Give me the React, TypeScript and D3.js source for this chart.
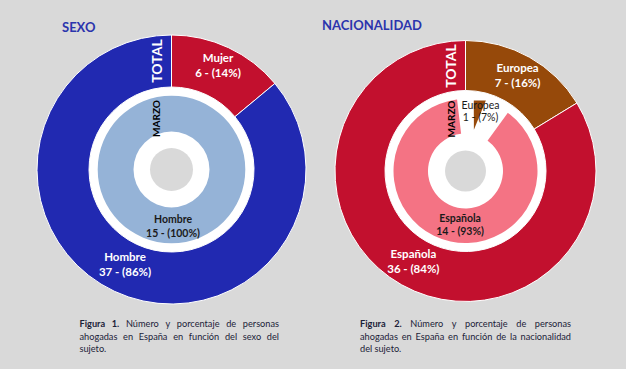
import React from "react";
import * as d3 from "d3";

const W = 626;
const H = 369;

// ---- data ----
const sexoTitle = "SEXO";
const sexoTotalLabels = ["Mujer", "Hombre"];
const sexoTotalValues = [6, 37];
const sexoMarzoLabels = ["Hombre"];
const sexoMarzoValues = [15];

const nacTitle = "NACIONALIDAD";
const nacTotalLabels = ["Europea", "Española"];
const nacTotalValues = [7, 36];
const nacMarzoLabels = ["Europea", "Española"];
const nacMarzoValues = [1, 14];

const ringLabelOuter = "TOTAL";
const ringLabelInner = "MARZO";

const caption1 = ["Figura 1.", "Número y porcentaje de personas ahogadas en España en función del sexo del sujeto."];
const caption2 = ["Figura 2.", "Número y porcentaje de personas ahogadas en España en función de la nacionalidad del sujeto."];
const caption1Lines = [7, 8]; // words per justified line (rest on last line)
const caption2Lines = [7, 8];

// ---- styles ----
const FONT = "Lato, 'Open Sans', sans-serif";
const BG = "#d9d9d9";

const sexoOuterColors = ["#c2102e", "#2129b1"];
const sexoInnerColors = ["#95b3d7"];
const nacOuterColors = ["#96490a", "#c2102e"];
const nacInnerColors = ["#96490a", "#f47384"];

type Panel = {
  title: string;
  titleX: number;
  titleY: number;
  cx: number;
  cy: number;
  rO: number;
  rOi: number;
  rIo: number;
  rIi: number;
  rCore: number;
  outerLabels: string[];
  outerValues: number[];
  outerColors: string[];
  innerLabels: string[];
  innerValues: number[];
  innerColors: string[];
  innerLabelColor: string;
  innerBold: boolean[];
  outerDy: [number, number];
  innerDy: [number, number][];
  innerR: number[];
  innerDx: number[];
  gapSlice: number;
  totalPos: [number, number];
  marzoPos: [number, number];
  caption: string[];
  captionLines: number[];
  capX: number;
  capW: number;
};

const panels: Panel[] = [
  {
    title: sexoTitle, titleX: 62, titleY: 31.5,
    cx: 171.5, cy: 169.5, rO: 134.5, rOi: 82.5, rIo: 73.8, rIi: 38, rCore: 21.5,
    outerLabels: sexoTotalLabels, outerValues: sexoTotalValues, outerColors: sexoOuterColors,
    innerLabels: sexoMarzoLabels, innerValues: sexoMarzoValues, innerColors: sexoInnerColors,
    innerLabelColor: "#1a1a1a", innerBold: [true],
    outerDy: [-8, 7], innerDy: [[-3, 11]], innerR: [56], innerDx: [1.5],
    gapSlice: -1,
    totalPos: [156.5, 61], marzoPos: [155.5, 118.5],
    caption: caption1, captionLines: caption1Lines, capX: 79.5, capW: 199.5,
  },
  {
    title: nacTitle, titleX: 322, titleY: 29.5,
    cx: 465.5, cy: 171, rO: 130.5, rOi: 80.5, rIo: 72, rIi: 37.5, rCore: 20.5,
    outerLabels: nacTotalLabels, outerValues: nacTotalValues, outerColors: nacOuterColors,
    innerLabels: nacMarzoLabels, innerValues: nacMarzoValues, innerColors: nacInnerColors,
    innerLabelColor: "#1a1a1a", innerBold: [false, true],
    outerDy: [-6, 9], innerDy: [[-5, 7], [-3, 10]], innerR: [58, 55], innerDx: [3, 6],
    gapSlice: 0,
    totalPos: [450.5, 66], marzoPos: [451, 119],
    caption: caption2, captionLines: caption2Lines, capX: 360, capW: 211,
  },
];

const pct = (v: number, tot: number) => `${v} - (${Math.round((v / tot) * 100)}%)`;

let ctx: CanvasRenderingContext2D | null = null;
function measure(text: string, bold: boolean, size: number) {
  if (!ctx) ctx = document.createElement("canvas").getContext("2d");
  if (!ctx) return text.length * size * 0.5;
  ctx.font = `${bold ? "bold " : ""}${size}px Lato`;
  return ctx.measureText(text).width;
}

function Caption({ p }: { p: Panel }) {
  const size = 9.2;
  const boldWords = p.caption[0].split(" ").map((w) => ({ w, b: true }));
  const normWords = p.caption[1].split(" ").map((w) => ({ w, b: false }));
  const words = [...boldWords, ...normWords];
  const lines: { w: string; b: boolean }[][] = [];
  let i = 0;
  for (const n of p.captionLines) {
    lines.push(words.slice(i, i + n));
    i += n;
  }
  lines.push(words.slice(i));
  const baselines = [327.3, 339.5, 351.7];
  return (
    <g fontFamily={FONT} fontSize={size} fill="#1b2238">
      {lines.map((ln, li) => {
        const widths = ln.map((t) => measure(t.w, t.b, size));
        const total = d3.sum(widths);
        const justify = li < lines.length - 1;
        const space = justify ? (p.capW - total) / (ln.length - 1) : measure(" ", false, size);
        let x = p.capX;
        return (
          <text key={li} y={baselines[li]}>
            {ln.map((t, k) => {
              const el = (
                <tspan key={k} x={x} fontWeight={t.b ? "bold" : "normal"}>
                  {t.w}
                </tspan>
              );
              x += widths[k] + space;
              return el;
            })}
          </text>
        );
      })}
    </g>
  );
}

function Donut({ p }: { p: Panel }) {
  const pie = d3.pie<number>().sort(null).value((d) => d);
  const outerArcs = pie(p.outerValues);
  const innerArcs = pie(p.innerValues);
  const arcO = d3.arc<d3.PieArcDatum<number>>().innerRadius(p.rOi).outerRadius(p.rO);
  const arcI = d3.arc<d3.PieArcDatum<number>>().innerRadius(p.rIi).outerRadius(p.rIo);
  const totO = d3.sum(p.outerValues);
  const totI = d3.sum(p.innerValues);
  const rLabO = (p.rO + p.rOi) / 2 + 1;

  const polar = (a: number, r: number): [number, number] => [Math.sin(a) * r, -Math.cos(a) * r];

  return (
    <g>
      <text x={p.titleX} y={p.titleY} fontFamily={FONT} fontWeight="bold" fontSize={13} fill="#2b34ad">
        {p.title}
      </text>
      <g transform={`translate(${p.cx},${p.cy})`}>
        <circle r={p.rOi} fill="#ffffff" />
        {outerArcs.map((a, i) => (
          <path key={i} d={arcO(a) || ""} fill={p.outerColors[i]} stroke="#ffffff" strokeWidth={1} />
        ))}
        {innerArcs.map((a, i) =>
          i === p.gapSlice ? null : <path key={i} d={arcI(a) || ""} fill={p.innerColors[i]} />
        )}
        {innerArcs.map((a, i) => {
          if (i !== p.gapSlice) return null;
          const span = a.endAngle - a.startAngle;
          const gap = d3
            .arc()
            .innerRadius(p.rIi - 1)
            .outerRadius(p.rIo + 1)
            .startAngle(a.startAngle - span * 0.28)
            .endAngle(a.endAngle + span * 0.5)({} as any);
          const pA = polar(a.startAngle + span * 0.28, p.rIo - 1);
          const pB = polar(a.startAngle + span * 0.67, p.rIo + 1.5);
          const pC = polar(a.startAngle + span * 0.48, p.rIi + 4.5);
          const wedge = d3.line()([pA, pB, pC]) + "Z";
          return (
            <g key={i}>
              <path d={gap || ""} fill="#ffffff" />
              <path d={wedge} fill={p.innerColors[i]} />
            </g>
          );
        })}
        <circle r={p.rCore} fill={BG} />
        {outerArcs.map((a, i) => {
          const m = (a.startAngle + a.endAngle) / 2;
          const [x, y] = polar(m, rLabO);
          return (
            <text key={i} textAnchor="middle" fontFamily={FONT} fontWeight="bold" fontSize={11.5} fill="#ffffff">
              <tspan x={x} y={y + p.outerDy[0]}>{p.outerLabels[i]}</tspan>
              <tspan x={x} y={y + p.outerDy[1]}>{pct(p.outerValues[i], totO)}</tspan>
            </text>
          );
        })}
        {innerArcs.map((a, i) => {
          const m = (a.startAngle + a.endAngle) / 2;
          const [x0, y] = polar(m, p.innerR[i]);
          const x = x0 + p.innerDx[i];
          return (
            <text
              key={i}
              textAnchor="middle"
              fontFamily={FONT}
              fontWeight={p.innerBold[i] ? "bold" : "normal"}
              fontSize={10.5}
              fill={p.innerLabelColor}
            >
              <tspan x={x} y={y + p.innerDy[i][0]}>{p.innerLabels[i]}</tspan>
              <tspan x={x} y={y + p.innerDy[i][1]}>{pct(p.innerValues[i], totI)}</tspan>
            </text>
          );
        })}
      </g>
      <text
        transform={`translate(${p.totalPos[0]},${p.totalPos[1]}) rotate(-90)`}
        textAnchor="middle"
        dominantBaseline="central"
        fontFamily={FONT}
        fontWeight="bold"
        fontSize={14}
        fill="#ffffff"
      >
        {ringLabelOuter}
      </text>
      <text
        transform={`translate(${p.marzoPos[0]},${p.marzoPos[1]}) rotate(-90)`}
        textAnchor="middle"
        dominantBaseline="central"
        fontFamily={FONT}
        fontWeight="bold"
        fontSize={10}
        fill="#000000"
      >
        {ringLabelInner}
      </text>
      <Caption p={p} />
    </g>
  );
}

export default function App() {
  return (
    <svg
      width={W}
      height={H}
      style={{ position: "absolute", left: 0, top: 0, display: "block" }}
      xmlns="http://www.w3.org/2000/svg"
    >
      <rect width={W} height={H} fill={BG} />
      {panels.map((p, i) => (
        <Donut key={i} p={p} />
      ))}
    </svg>
  );
}
